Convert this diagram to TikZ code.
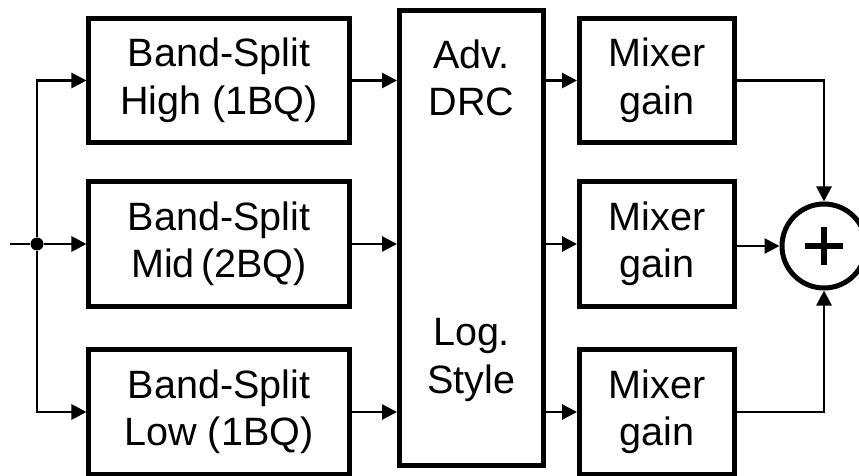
\documentclass[tikz,border=0pt]{standalone}
\usepackage{fontspec}
\setmainfont{Liberation Sans}
\usetikzlibrary{arrows.meta}
\usetikzlibrary{positioning}

\begin{document}
\begin{tikzpicture}[x=0.2mm, y=-0.2mm,
    blk/.style={draw, line width=1mm, align=center, inner sep=0pt,
      minimum height=24.8mm, font=\fontsize{22.5}{27}\selectfont},
    split/.style={blk, minimum width=52mm},
    mixer/.style={blk, minimum width=31mm},
    sig/.style={line width=0.55mm, -{Triangle[length=3mm,width=3mm]}}]
  \useasboundingbox (0,0) rectangle (859,476);
  % band-split filters
  \node[split] (high) at (219,80.5) {Band-Split\\High (1BQ)};
  \node[split] (mid)  at (219,244)  {Band-Split\\Mid\,(2BQ)};
  \node[split] (low)  at (219,412)  {Band-Split\\Low (1BQ)};
  % DRC block
  \node[draw, line width=1mm, inner sep=0pt, minimum width=28.8mm,
    minimum height=91.1mm] (drc) at (471.5,238) {};
  \node[align=center, font=\fontsize{22.5}{27}\selectfont] (drctop) at (471.5,78) {Adv.\\DRC};
  \node[align=center, font=\fontsize{22.5}{27}\selectfont] (drcbot) at (471.5,360) {Log.\\Style};
  % mixers
  \node[mixer] (mixhigh) at (657,80.5) {Mixer\\gain};
  \node[mixer] (mixmid)  at (657,244)  {Mixer\\gain};
  \node[mixer] (mixlow)  at (657,412)  {Mixer\\gain};
  \node[circle, draw, line width=1mm, inner sep=0pt, minimum size=16.8mm] (sum) at (824,246) {};
  \draw[line width=1.3mm] ([xshift=-3.8mm]sum.center) -- ([xshift=3.8mm]sum.center);
  \draw[line width=1.3mm] ([yshift=-3.8mm]sum.center) -- ([yshift=3.8mm]sum.center);
  % input
  \coordinate (in) at (10,244);
  \node[circle, fill, inner sep=0pt, minimum size=2.6mm] (dot) at (37,244) {};
  \draw[line width=0.55mm] (in) -- (dot);
  \draw[sig] (dot) |- (high.west);
  \draw[sig] (dot) -- (mid.west);
  \draw[sig] (dot) |- (low.west);
  \draw[sig] (high.east) -- (high.east -| drc.west);
  \draw[sig] (mid.east) -- (mid.east -| drc.west);
  \draw[sig] (low.east) -- (low.east -| drc.west);
  \draw[sig] (mixhigh.west -| drc.east) -- (mixhigh.west);
  \draw[sig] (mixmid.west -| drc.east) -- (mixmid.west);
  \draw[sig] (mixlow.west -| drc.east) -- (mixlow.west);
  \draw[sig] (mixhigh.east) -| (sum.north);
  \draw[sig] (mixmid.east |- sum.west) -- (sum.west);
  \draw[sig] (mixlow.east) -| (sum.south);
\end{tikzpicture}
\end{document}
